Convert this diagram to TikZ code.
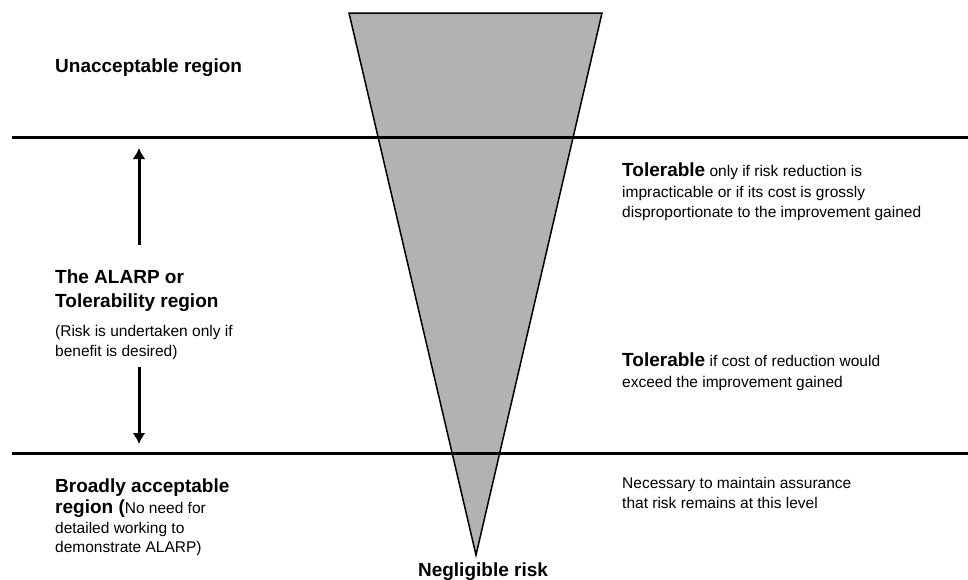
\documentclass[tikz,border=0pt]{standalone}
\usepackage{fontspec}
\setmainfont{Liberation Sans}
\usetikzlibrary{arrows.meta, positioning}
\newcommand{\bigb}[1]{{\fontsize{19}{22}\selectfont\bfseries #1}}
\definecolor{gray70}{gray}{0.7}

\begin{document}
\begin{tikzpicture}[x=1pt, y=-1pt,
  big/.style    = {font=\fontsize{19}{22}\selectfont\bfseries, anchor=base west, inner sep=0pt},
  small/.style  = {font=\fontsize{15.5}{18}\selectfont, anchor=base west, inner sep=0pt},
  border/.style = {line width=3pt},
  funnel/.style = {draw, line width=1.5pt, fill=gray70, line join=miter},
  updown/.style = {line width=3pt, -{Latex[length=11pt,width=13pt]}}]

\useasboundingbox (0,0) rectangle (968,579);

% the risk funnel
\coordinate (ftl) at (349,13);
\coordinate (ftr) at (602,13);
\coordinate (fap) at (476,555);
\draw[funnel] (ftl) -- (ftr) -- (fap) -- cycle;

% region borders
\coordinate (b1w) at (12,137);  \coordinate (b1e) at (968,137);
\coordinate (b2w) at (12,453);  \coordinate (b2e) at (968,453);
\draw[border] (b1w) -- (b1e);
\draw[border] (b2w) -- (b2e);

% left column, region names
\node[big] (unacc) at (55,72) {Unacceptable region};

\node[big]   (alarp1) at (55,283) {The ALARP or};
\node[big]   (alarp2) at (55,307) {Tolerability region};
\node[small] (alarp3) at (55,336) {(Risk is undertaken only if};
\node[small] (alarp4) at (55,356) {benefit is desired)};

\node[big]   (broad1) at (55,492) {Broadly acceptable};
\node[small] (broad2) at (55,513) {\bigb{region (}No need for};
\node[small] (broad3) at (55,533) {detailed working to};
\node[small] (broad4) at (55,552) {demonstrate ALARP)};

% arrows of the ALARP region
\coordinate (upfrom) at (139,245);  \coordinate (upto) at (139,148);
\coordinate (dnfrom) at (139,367);  \coordinate (dnto) at (139,444);
\draw[updown] (upfrom) -- (upto);
\draw[updown] (dnfrom) -- (dnto);

% right column
\node[small] (tol11) at (622,176) {\bigb{Tolerable} only if risk reduction is};
\node[small] (tol12) at (622,197) {impracticable or if its cost is grossly};
\node[small] (tol13) at (622,217) {disproportionate to the improvement gained};

\node[small] (tol21) at (622,366) {\bigb{Tolerable} if cost of reduction would};
\node[small] (tol22) at (622,387) {exceed the improvement gained};

\node[small] (nec1) at (622,488) {Necessary to maintain assurance};
\node[small] (nec2) at (622,508) {that risk remains at this level};

% bottom of the funnel
\node[big, anchor=base] (neglig) at (483,576) {Negligible risk};

\end{tikzpicture}
\end{document}
